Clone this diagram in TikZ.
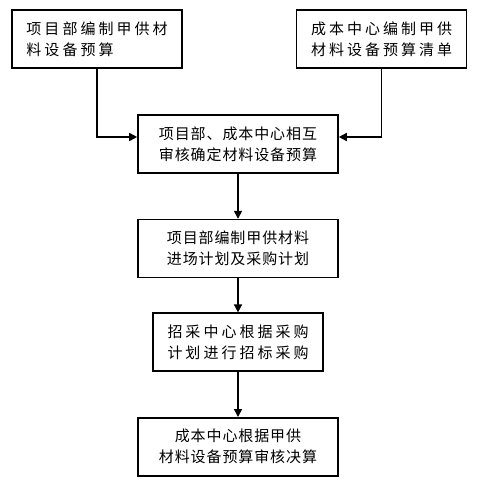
\documentclass[tikz,border=0pt]{standalone}
\usepackage{fontspec}
\newfontfamily\cjk[LetterSpace=6]{Noto Sans CJK SC}
\newfontfamily\cjkwide[LetterSpace=20]{Noto Sans CJK SC}
\usetikzlibrary{arrows.meta,positioning}

\begin{document}
\begin{tikzpicture}[
  x=1bp, y=1bp,
  box/.style={
    draw,
    line width=1.6bp,
    minimum width=200bp,
    minimum height=58bp,
    align=left,
    font=\cjk\fontsize{15bp}{21bp}\selectfont
  },
  widebox/.style={
    box,
    minimum width=170bp,
    font=\cjkwide\fontsize{15bp}{21bp}\selectfont
  },
  arrow/.style={-{Triangle[length=8bp,width=8bp]},line width=1.6bp}
]
  \useasboundingbox (0,0) rectangle (500,-486);
  \node[widebox] (pmbudget) at (97,-39)
    {项目部编制甲供材\\料设备预算};
  \node[widebox,right=113bp of pmbudget] (costlist)
    {成本中心编制甲供\\材料设备预算清单};
  \node[box] (review) at (238,-144)
    {项目部、成本中心相互\\审核确定材料设备预算};
  \node[box,below=45bp of review] (plan)
    {项目部编制甲供材料\\进场计划及采购计划};
  \node[widebox,below=34bp of plan] (tender)
    {招采中心根据采购\\计划进行招标采购};
  \node[box,align=center,below=45bp of tender] (settle)
    {成本中心根据甲供\\材料设备预算审核决算};
  \draw[arrow] (pmbudget.south) |- ([yshift=7bp]review.west);
  \draw[arrow] (costlist.south) |- ([yshift=7bp]review.east);
  \draw[arrow] (review) -- (plan);
  \draw[arrow] (plan) -- (tender);
  \draw[arrow] (tender) -- (settle);
\end{tikzpicture}
\end{document}
